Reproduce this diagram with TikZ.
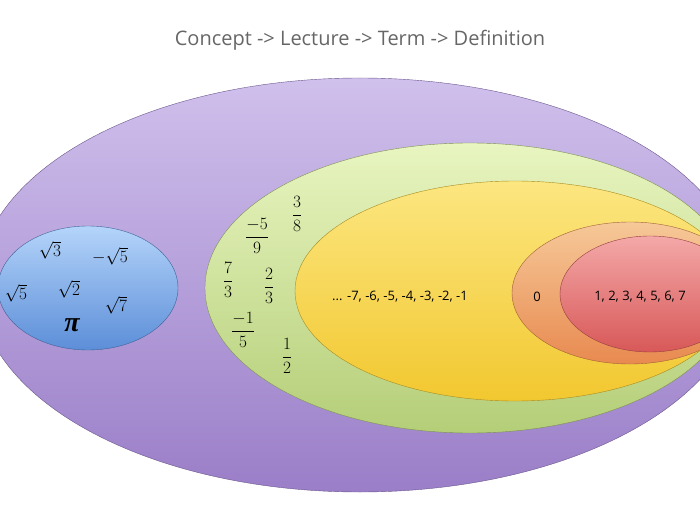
\documentclass[tikz,border=0pt]{standalone}
\usepackage{fontspec}
\setmainfont{Open Sans}
\newfontfamily\mathser{Liberation Serif}
\definecolor{pTop}{HTML}{D0C0EC}\definecolor{pBot}{HTML}{9A7EC8}
\definecolor{bTop}{HTML}{B4D4FA}\definecolor{bBot}{HTML}{5C8ED8}
\definecolor{gTop}{HTML}{E8F5C0}\definecolor{gBot}{HTML}{B4CE78}
\definecolor{yTop}{HTML}{FCE680}\definecolor{yBot}{HTML}{F2C830}
\definecolor{oTop}{HTML}{F6C898}\definecolor{oBot}{HTML}{E88A50}
\definecolor{rTop}{HTML}{F4A8A8}\definecolor{rBot}{HTML}{D85858}
\begin{document}
\begin{tikzpicture}[x=1pt,y=-1pt,
  lbl/.style={font=\mathser\fontsize{17}{17}\selectfont},
  num/.style={font=\fontsize{13}{13}\selectfont}]
\useasboundingbox (0,0) rectangle (700,510);
\clip (0,0) rectangle (700,510);
\node[font=\fontsize{20}{20}\selectfont, text=black!60] (title) at (360,40) {Concept -> Lecture -> Term -> Definition};
\shade[top color=pTop, bottom color=pBot, draw=pBot!70!black] (360,285) ellipse [x radius=382, y radius=207];
\shade[top color=bTop, bottom color=bBot, draw=bBot!70!black] (88,288) ellipse [x radius=90, y radius=62];
\shade[top color=gTop, bottom color=gBot, draw=gBot!70!black] (470,288) ellipse [x radius=265, y radius=145];
\shade[top color=yTop, bottom color=yBot, draw=yBot!70!black] (515,291) ellipse [x radius=220, y radius=110];
\shade[top color=oTop, bottom color=oBot, draw=oBot!70!black] (630,293) ellipse [x radius=118, y radius=71];
\shade[top color=rTop, bottom color=rBot, draw=rBot!70!black] (650,294) ellipse [x radius=90, y radius=58];
% irrationals
\node[lbl] (s3) at (50,250) {$\sqrt{3}$};
\node[lbl] (ms5) at (110,256) {$-\sqrt{5}$};
\node[lbl] (s5) at (16,293) {$\sqrt{5}$};
\node[lbl] (s2) at (69,289) {$\sqrt{2}$};
\node[lbl] (s7) at (116,305) {$\sqrt{7}$};
\node[font=\mathser\bfseries\itshape\fontsize{28}{28}\selectfont] (pi) at (72,325) {π};
% rationals
\node[lbl] (f1) at (297,214) {$\displaystyle\frac{3}{8}$};
\node[lbl] (f2) at (257,236) {$\displaystyle\frac{-5}{9}$};
\node[lbl] (f3) at (228,280) {$\displaystyle\frac{7}{3}$};
\node[lbl] (f4) at (269,286) {$\displaystyle\frac{2}{3}$};
\node[lbl] (f5) at (243,330) {$\displaystyle\frac{-1}{5}$};
\node[lbl] (f6) at (287,356) {$\displaystyle\frac{1}{2}$};
\node[num] (neg) at (400,297) {... -7, -6, -5, -4, -3, -2, -1};
\node[num] (zero) at (537,297) {0};
\node[num] (pos) at (640,297) {1, 2, 3, 4, 5, 6, 7};
\end{tikzpicture}
\end{document}
